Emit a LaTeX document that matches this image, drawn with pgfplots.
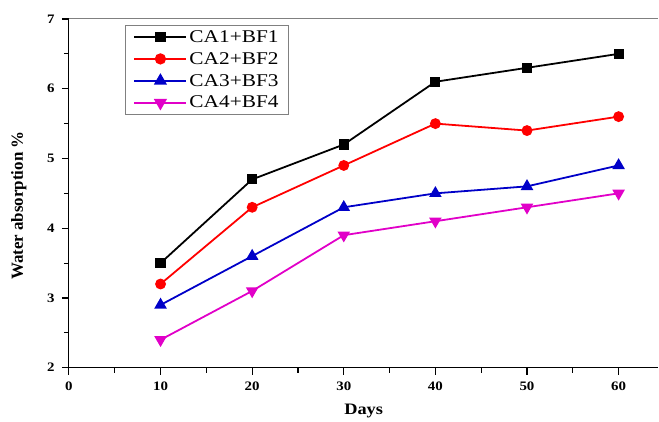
\documentclass[border=0pt]{standalone}
\usepackage{pgfplots}
\pgfplotsset{compat=1.18}
\usepackage{graphicx}
\usepackage{fontspec}
\setmainfont{Liberation Serif}
\definecolor{cblue}{RGB}{0,0,200}
\definecolor{cmag}{RGB}{225,0,200}
\newcommand\sx[1]{\scalebox{1.19}[1]{#1}}
\begin{document}
\begin{tikzpicture}
\path (-69bp,-50bp) rectangle (590bp,368bp);
\begin{axis}[
  scale only axis,
  width=590bp, height=349bp,
  xmin=0, xmax=64.35, ymin=2, ymax=7,
  axis x line*=bottom, axis y line*=left,
  axis line style={line width=1.1pt},
  xtick={0,10,...,60}, ytick={2,...,7},
  minor x tick num=1, minor y tick num=1,
  tick align=outside,
  major tick length=7bp, minor tick length=5bp,
  tick style={line width=1.1pt, black},
  /pgf/number format/assume math mode=true,
  tick label style={font=\bfseries\fontsize{13}{13}\selectfont, xscale=1.15},
  xticklabel style={yshift=-4bp},
  yticklabel style={xshift=-3bp},
  xlabel={Days}, ylabel={Water absorption \%},
  xlabel style={font=\bfseries\fontsize{16}{16}\selectfont, xscale=1.15, at={(rel axis cs:0.5,0)}, anchor=north, yshift=-33bp},
  ylabel style={font=\bfseries\fontsize{17}{17}\selectfont, at={(rel axis cs:0,0.465)}, anchor=south, yshift=39bp},
  legend style={at={(rel axis cs:0.095,0.983)}, anchor=north west, draw=gray, line width=0.8pt,
    font=\fontsize{18}{18}\selectfont, row sep=4.6bp, inner xsep=8bp, inner ysep=3bp, cells={anchor=west}},
  legend image code/.code={\draw[line width=2.2pt, mark repeat=2,mark phase=2] plot coordinates {(0bp,0bp) (26bp,0bp) (52bp,0bp)};},
  every axis plot/.append style={line width=1.8pt},
]
\addplot[black, mark=square*, mark size=4.2bp] coordinates {(10,3.5) (20,4.7) (30,5.2) (40,6.1) (50,6.3) (60,6.5)};
\addlegendentry{\sx{CA1+BF1}}
\addplot[red, mark=*, mark size=4.5bp] coordinates {(10,3.2) (20,4.3) (30,4.9) (40,5.5) (50,5.4) (60,5.6)};
\addlegendentry{\sx{CA2+BF2}}
\addplot[cblue, mark=triangle*, mark size=5.5bp] coordinates {(10,2.9) (20,3.6) (30,4.3) (40,4.5) (50,4.6) (60,4.9)};
\addlegendentry{\sx{CA3+BF3}}
\addplot[cmag, mark=triangle*, mark size=5.5bp, mark options={rotate=180}] coordinates {(10,2.4) (20,3.1) (30,3.9) (40,4.1) (50,4.3) (60,4.5)};
\addlegendentry{\sx{CA4+BF4}}
\draw[gray, line width=1pt] (rel axis cs:0,1) -- (rel axis cs:1,1);
\end{axis}
\end{tikzpicture}
\end{document}
